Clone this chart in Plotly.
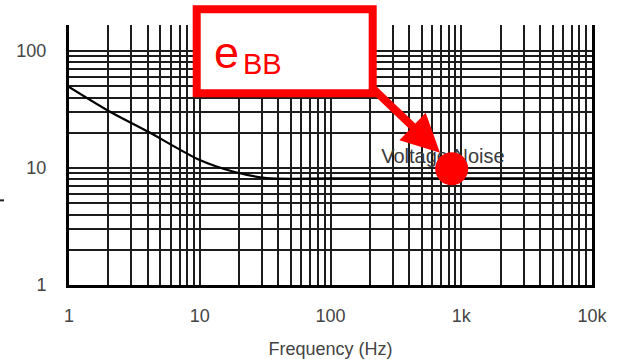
import plotly.graph_objects as go

# ---- data ----
freq_hz = [1.0, 2.06, 4.04, 10.0, 17.9, 32.5, 100.0, 1000.0, 10000.0]
noise = [49.4, 30.3, 20.4, 11.7, 9.34, 8.2, 8.15, 8.15, 8.15]

x_tick_vals = [1, 10, 100, 1000, 10000]
x_tick_text = ["1", "10", "100", "1k", "10k"]
y_tick_vals = [1, 10, 100]
y_tick_text = ["1", "10", "100"]

label_text = "Voltage Noise"
label_pos = (724, 12.2)
marker_pos = (845, 9.85)
callout_main = "e"
callout_sub = "BB"

x_minor = [m * 10 ** k for k in range(0, 4) for m in range(2, 10)]
y_minor = [m * 10 ** k for k in range(0, 2) for m in range(2, 10)]

# plot area geometry in pixels (for paper-coordinate helpers)
L, R, T, B = 69, 592, 25, 285.5
W, H = R - L, B - T


def px(x):
    return (x - L) / W


def py(y):
    return (B - y) / H


GRID = "#1c1c1c"
RED = "#ff0000"
FONT = "Liberation Sans, Arial, sans-serif"

fig = go.Figure()

fig.add_trace(go.Scatter(
    x=freq_hz, y=noise, mode="lines",
    line=dict(color="#000000", width=2.2, shape="spline", smoothing=0.8),
    hoverinfo="skip", showlegend=False,
))

fig.add_trace(go.Scatter(
    x=[label_pos[0]], y=[label_pos[1]], mode="text", text=[label_text],
    textposition="middle center",
    textfont=dict(family=FONT, size=20, color="#3a3a3a"),
    hoverinfo="skip", showlegend=False,
))

fig.add_trace(go.Scatter(
    x=[marker_pos[0]], y=[marker_pos[1]], mode="markers",
    marker=dict(color=RED, size=33, line=dict(width=0)),
    hoverinfo="skip", showlegend=False,
))

# white background behind the curve label
fig.add_shape(type="rect", xref="paper", yref="paper",
              x0=px(380), x1=px(510), y0=py(169.5), y1=py(145),
              fillcolor="white", line=dict(width=0), layer="between")

# red callout box
fig.add_shape(type="rect", xref="paper", yref="paper",
              x0=px(196.7), x1=px(372.7), y0=py(93.3), y1=py(9.3),
              fillcolor="white", line=dict(color=RED, width=8), layer="above")

# stray dash at left edge
fig.add_shape(type="line", xref="paper", yref="paper",
              x0=px(0), x1=px(4), y0=py(200.7), y1=py(200.7),
              line=dict(color="#222", width=2), layer="above")

fig.add_annotation(xref="paper", yref="paper", x=px(212), y=py(53),
                   text=callout_main, showarrow=False, xanchor="left", yanchor="middle",
                   font=dict(family=FONT, size=45, color=RED))
fig.add_annotation(xref="paper", yref="paper", x=px(241), y=py(64),
                   text=callout_sub, showarrow=False, xanchor="left", yanchor="middle",
                   font=dict(family=FONT, size=29, color=RED))

# arrow from the callout box corner to the marker
fig.add_annotation(xref="paper", yref="paper", x=px(440), y=py(153),
                   ax=372 - 440, ay=88 - 153, axref="pixel", ayref="pixel",
                   text="", showarrow=True, arrowhead=2, arrowsize=0.95,
                   arrowwidth=8, arrowcolor=RED, standoff=0, startstandoff=0)

fig.update_xaxes(
    type="log", range=[0, 4],
    tickmode="array", tickvals=x_tick_vals, ticktext=x_tick_text,
    showgrid=True, gridcolor=GRID, gridwidth=1.6,
    minor=dict(tickmode="array", tickvals=x_minor, showgrid=True,
               gridcolor=GRID, gridwidth=1.6),
    showline=True, linecolor="#000", linewidth=3, mirror=False,
    ticks="", ticklabelstandoff=12,
    tickfont=dict(family=FONT, size=18, color="#444"),
    title=dict(text="Frequency (Hz)", standoff=20,
               font=dict(family=FONT, size=18, color="#444")),
    zeroline=False, fixedrange=True,
)
fig.update_yaxes(
    type="log", range=[0, (B - T) / 117.2],
    tickmode="array", tickvals=y_tick_vals, ticktext=y_tick_text,
    showgrid=True, gridcolor=GRID, gridwidth=1.6,
    minor=dict(tickmode="array", tickvals=y_minor, showgrid=True,
               gridcolor=GRID, gridwidth=1.6),
    showline=True, linecolor="#000", linewidth=3, mirror=True,
    ticks="", ticklabelstandoff=16,
    tickfont=dict(family=FONT, size=18, color="#444"),
    zeroline=False, fixedrange=True,
)

fig.update_layout(
    width=621, height=359,
    margin=dict(l=L, r=621 - R, t=T, b=359 - B, autoexpand=False),
    plot_bgcolor="white", paper_bgcolor="white",
    showlegend=False,
)

fig.write_html("out.html", include_plotlyjs=True, full_html=True,
               config={"displayModeBar": False, "responsive": False})
